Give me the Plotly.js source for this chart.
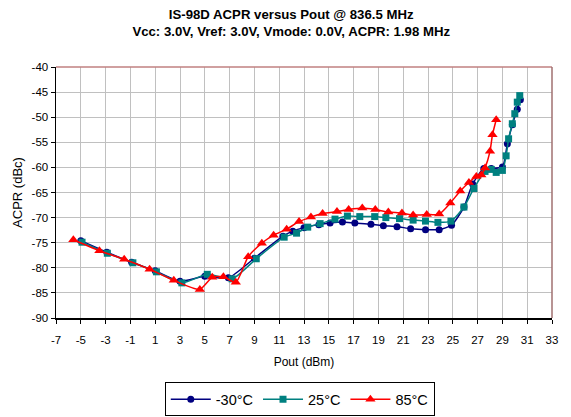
<!DOCTYPE html>
<html>
<head>
<meta charset="utf-8">
<script src="https://cdn.plot.ly/plotly-3.0.1.min.js"></script>
<style>html,body{margin:0;padding:0;background:#fff;}#chart{width:571px;height:417px;}</style>
</head>
<body>
<div id="chart"></div>
<script>
const seriesNames = ["-30°C", "25°C", "85°C"];

const poutM30 = [-5.0, -2.9, -0.9, 1.0, 3.0, 5.0, 6.9, 9.0, 11.3, 12.1, 13.0, 14.2, 15.1, 16.1, 17.1, 18.4, 19.4, 20.5, 21.6, 22.8, 23.9, 24.9, 25.9, 26.6, 27.5, 28.1, 29.0, 29.4, 29.8, 30.2, 30.45];
const acprM30 = [-74.6, -76.9, -78.9, -80.6, -82.7, -81.7, -82.0, -78.1, -73.7, -72.7, -72.0, -71.4, -71.1, -70.9, -71.1, -71.3, -71.6, -71.8, -72.2, -72.4, -72.4, -71.5, -67.9, -63.3, -60.2, -60.2, -59.9, -55.3, -51.5, -48.4, -46.5];

const pout25 = [-4.9, -2.86, -0.8, 1.1, 3.15, 5.2, 7.2, 9.15, 11.4, 12.4, 13.3, 14.3, 15.5, 16.5, 17.5, 18.7, 19.6, 20.7, 21.8, 22.8, 23.8, 24.85, 25.9, 26.7, 27.6, 28.1, 28.5, 29.0, 29.3, 29.5, 29.8, 30.0, 30.2, 30.4];
const acpr25 = [-74.9, -77.1, -79.0, -80.8, -83.0, -81.3, -82.2, -78.2, -73.9, -73.1, -71.9, -71.2, -70.3, -69.7, -69.8, -69.8, -70.0, -70.2, -70.5, -70.7, -70.95, -70.7, -67.9, -64.2, -60.8, -60.4, -61.0, -60.6, -57.7, -54.3, -51.3, -49.3, -47.0, -45.7];

const pout85 = [-5.6, -3.5, -1.5, 0.55, 2.5, 4.6, 5.6, 6.5, 7.5, 8.5, 9.6, 10.55, 11.6, 12.6, 13.56, 14.5, 15.66, 16.6, 17.7, 18.75, 19.8, 20.9, 21.8, 22.9, 23.9, 24.8, 25.6, 26.3, 26.9, 27.3, 27.6, 28.0, 28.2, 28.5];
const acpr85 = [-74.4, -76.6, -78.3, -80.3, -82.5, -84.3, -81.9, -81.8, -82.9, -77.8, -75.1, -73.5, -72.3, -70.8, -69.9, -69.2, -68.8, -68.4, -68.1, -68.4, -68.9, -69.1, -69.5, -69.4, -69.3, -67.1, -64.7, -63.0, -61.8, -61.5, -60.1, -56.8, -53.5, -50.5];

const xTicks = [-7, -5, -3, -1, 1, 3, 5, 7, 9, 11, 13, 15, 17, 19, 21, 23, 25, 27, 29, 31, 33];
const yTicks = [-40, -45, -50, -55, -60, -65, -70, -75, -80, -85, -90];

const colors = ["#000080", "#008080", "#FF0000"];
const symbols = ["circle", "square", "triangle-up"];
const xs = [poutM30, pout25, pout85];
const ys = [acprM30, acpr25, acpr85];

const traces = seriesNames.map((n, i) => ({
  x: xs[i], y: ys[i], name: n, type: "scatter", mode: "lines+markers",
  line: {color: colors[i], width: 1.5, shape: "spline", smoothing: 0.6},
  marker: {color: colors[i], symbol: symbols[i], size: i === 2 ? 9 : 7,
           line: {color: colors[i], width: 0}}
}));

const font = "Liberation Sans, Arial, sans-serif";
const layout = {
  width: 571, height: 417,
  margin: {l: 56, r: 19, t: 67, b: 99},
  paper_bgcolor: "#fff", plot_bgcolor: "#fff",
  font: {family: font, size: 11, color: "#000"},
  title: {text: "<b>IS-98D ACPR versus Pout @ 836.5 MHz<br>Vcc: 3.0V, Vref: 3.0V, Vmode: 0.0V, ACPR: 1.98 MHz</b>",
          font: {family: font, size: 13.2, color: "#000"}, x: 0.51, xanchor: "center", y: 0.955, yanchor: "top"},
  xaxis: {range: [-7, 33], tickvals: xTicks, ticktext: xTicks.map(String),
          showgrid: true, gridcolor: "#c0c0c0", gridwidth: 1,
          showline: true, linecolor: "#000", linewidth: 1.5,
          ticks: "outside", ticklen: 4, tickcolor: "#000", zeroline: false,
          tickfont: {size: 11.5}, ticklabelstandoff: 7,
          title: {text: "Pout (dBm)", font: {size: 12}, standoff: 12}},
  yaxis: {range: [-90, -40], tickvals: yTicks, ticktext: yTicks.map(String),
          showgrid: true, gridcolor: "#c0c0c0", gridwidth: 1,
          showline: true, linecolor: "#000", linewidth: 1.5,
          ticks: "outside", ticklen: 4, tickcolor: "#000", zeroline: false,
          tickfont: {size: 11.5},
          title: {text: "ACPR (dBc)", font: {size: 13}, standoff: 6}},
  showlegend: true,
  legend: {orientation: "h", x: 0.525, xref: "container", xanchor: "center",
           y: 0.083, yref: "container", yanchor: "top",
           bordercolor: "#000", borderwidth: 1, bgcolor: "#fff",
           font: {size: 14.5}, itemwidth: 40, tracegroupgap: 0},
  shapes: [
    {type: "line", xref: "paper", yref: "paper", x0: 0, x1: 1, y0: 1, y1: 1, line: {color: "#c08080", width: 1.5}},
    {type: "line", xref: "paper", yref: "paper", x0: 1, x1: 1, y0: 0, y1: 1, line: {color: "#a07070", width: 1.5}}
  ]
};

Plotly.newPlot("chart", traces, layout, {displayModeBar: false, staticPlot: true});
</script>
</body>
</html>
